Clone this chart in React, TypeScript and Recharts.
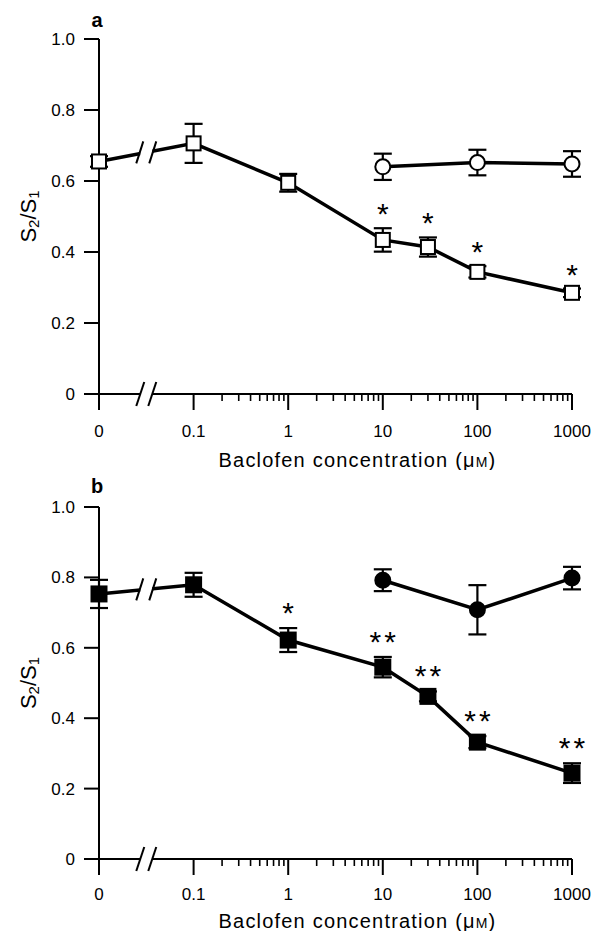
import React from "react";
import {
  ComposedChart,
  Line,
  XAxis,
  YAxis,
  ErrorBar,
  ReferenceDot,
  LabelList
} from "recharts";

const FONT = "'Liberation Sans', Arial, Helvetica, sans-serif";

// "0" is plotted at 0.01 on the log axis; the axis break sits half a decade further
const ZERO_AT = 0.01;
const BREAK_AT = 0.0316;

const xTicks = [0.01, 0.1, 1, 10, 100, 1000];
const xTickLabels = ["0", "0.1", "1", "10", "100", "1000"];
const minorTicks = [0.1, 1, 10, 100].flatMap(d => [2, 3, 4, 5, 6, 7, 8, 9].map(m => d * m));
const yTicks = [0, 0.2, 0.4, 0.6, 0.8, 1.0];

const concSquares = [0, 0.1, 1, 10, 30, 100, 1000];
const concCircles = [10, 100, 1000];

// panel a: open squares / open circles
const aSquare = [0.655, 0.706, 0.595, 0.434, 0.414, 0.344, 0.285];
const aSquareErr = [0.015, 0.055, 0.025, 0.033, 0.027, 0.016, 0.012];
const aSig = ["", "", "", "*", "*", "*", "*"];
const aCircle = [0.64, 0.652, 0.648];
const aCircleErr = [0.037, 0.036, 0.036];

// panel b: filled squares / filled circles
const bSquare = [0.753, 0.779, 0.622, 0.545, 0.462, 0.332, 0.244];
const bSquareErr = [0.04, 0.034, 0.034, 0.029, 0.014, 0.017, 0.028];
const bSig = ["", "", "*", "**", "**", "**", "**"];
const bCircle = [0.792, 0.708, 0.798];
const bCircleErr = [0.031, 0.07, 0.032];

const rows = (conc: number[], vals: number[], errs: number[], sig?: string[]) =>
  conc.map((c, i) => ({
    x: c === 0 ? ZERO_AT : c,
    y: vals[i],
    err: errs[i],
    sig: sig ? sig[i] : "",
    starY: vals[i] + errs[i]
  }));

const squareDot = (filled: boolean) => (p: any) => {
  const s = filled ? 15 : 14;
  return (
    <rect
      key={p.index}
      x={p.cx - s / 2}
      y={p.cy - s / 2}
      width={s}
      height={s}
      fill={filled ? "#000" : "#fff"}
      stroke="#000"
      strokeWidth={2}
    />
  );
};

const circleDot = (filled: boolean) => (p: any) => (
  <circle
    key={p.index}
    cx={p.cx}
    cy={p.cy}
    r={7.5}
    fill={filled ? "#000" : "#fff"}
    stroke="#000"
    strokeWidth={2}
  />
);

const makeXTick = (labelDy: number) => (p: any) => {
  const { x, y, payload } = p;
  const i = xTicks.indexOf(payload.value);
  const major = i >= 0;
  return (
    <g>
      <line x1={x} x2={x} y1={y} y2={y + (major ? 16 : 7)} stroke="#000" strokeWidth={major ? 2 : 1.6} />
      {major && (
        <text x={x} y={y + labelDy} textAnchor="middle" fontSize={17} fontFamily={FONT} fill="#000">
          {xTickLabels[i]}
        </text>
      )}
    </g>
  );
};

const XTitle = (p: any) => {
  const vb = p.viewBox;
  return (
    <text
      x={vb.x + vb.width / 2 + 22}
      y={vb.y + p.dyBase}
      textAnchor="middle"
      fontSize={20}
      letterSpacing={1.2}
      fontFamily={FONT}
      fill="#000"
    >
      Baclofen concentration (μ<tspan fontSize={14}>M</tspan>)
    </text>
  );
};

const YTitle = (p: any) => {
  const vb = p.viewBox;
  const cy = vb.y + vb.height / 2;
  const lx = 28;
  return (
    <g>
      <text
        x={vb.x + vb.width - 2}
        y={vb.y - p.letterUp}
        textAnchor="middle"
        fontSize={20}
        fontWeight="bold"
        fontFamily={FONT}
        fill="#000"
      >
        {p.letter}
      </text>
      <text
        transform={`translate(${lx},${cy}) rotate(-90)`}
        textAnchor="middle"
        dominantBaseline="central"
        fontSize={22}
        fontFamily={FONT}
        fill="#000"
      >
        S<tspan fontSize={15} dy={5}>2</tspan>
        <tspan dy={-5}>/S</tspan>
        <tspan fontSize={15} dy={5}>1</tspan>
      </text>
    </g>
  );
};

const starLabel = (up: number) => (p: any) => {
  if (!p.value || p.y == null) return null;
  const two = String(p.value).length > 1;
  return (
    <text
      x={p.x + (two ? 1.5 : 0)}
      y={p.y - up}
      textAnchor="middle"
      fontSize={30}
      letterSpacing={two ? 3 : 0}
      fontFamily={FONT}
      fill="#000"
    >
      {p.value}
    </text>
  );
};

const AxisBreak = (p: any) => {
  const { cx, cy } = p;
  return (
    <g>
      <rect x={cx - 6} y={cy - 3} width={12} height={6} fill="#fff" />
      <line x1={cx - 10} y1={cy + 12} x2={cx - 2} y2={cy - 12} stroke="#000" strokeWidth={2} />
      <line x1={cx + 2} y1={cy + 12} x2={cx + 10} y2={cy - 12} stroke="#000" strokeWidth={2} />
    </g>
  );
};

const LineBreak = (p: any) => {
  const { cx, cy } = p;
  return (
    <g>
      <rect x={cx - 6} y={cy - 5} width={12} height={10} fill="#fff" />
      <line x1={cx - 10} y1={cy + 11} x2={cx - 3} y2={cy - 11} stroke="#000" strokeWidth={2} />
      <line x1={cx + 3} y1={cy + 11} x2={cx + 10} y2={cy - 11} stroke="#000" strokeWidth={2} />
    </g>
  );
};

type PanelProps = {
  letter: string;
  squares: number[];
  squareErr: number[];
  sig: string[];
  circles: number[];
  circleErr: number[];
  filled: boolean;
  height: number;
  top: number;
  bottom: number;
  tickDy: number;
  titleDy: number;
  letterUp: number;
  starUp: number;
};

function Panel(pr: PanelProps) {
  const sq = rows(concSquares, pr.squares, pr.squareErr, pr.sig);
  const ci = rows(concCircles, pr.circles, pr.circleErr);
  const breakY = (pr.squares[0] + pr.squares[1]) / 2;
  const markerZ: any = { zIndex: 700 };
  return (
    <ComposedChart
      width={595}
      height={pr.height}
      margin={{ top: pr.top, right: 23, left: 39, bottom: pr.bottom }}
    >
      <XAxis
        type="number"
        dataKey="x"
        scale="log"
        domain={[0.01, 1000]}
        ticks={[...xTicks, ...minorTicks]}
        interval={0}
        tick={makeXTick(pr.tickDy)}
        tickLine={false}
        tickSize={0}
        tickMargin={0}
        height={50}
        axisLine={{ stroke: "#000", strokeWidth: 2 }}
        label={<XTitle dyBase={pr.titleDy} />}
      />
      <YAxis
        type="number"
        domain={[0, 1]}
        ticks={yTicks}
        width={60}
        tickSize={15}
        tickMargin={9}
        tickFormatter={(v: number) => (v === 0 ? "0" : v.toFixed(1))}
        tick={{ fill: "#000", fontSize: 17, fontFamily: FONT }}
        tickLine={{ stroke: "#000", strokeWidth: 2 }}
        axisLine={{ stroke: "#000", strokeWidth: 2 }}
        label={<YTitle letter={pr.letter} letterUp={pr.letterUp} />}
      />
      {/* lines + error bars first, markers drawn on top afterwards */}
      <Line data={ci} dataKey="y" stroke="#000" strokeWidth={3.5} dot={false} activeDot={false} isAnimationActive={false}>
        <ErrorBar dataKey="err" direction="y" width={9} stroke="#000" strokeWidth={2.2} />
      </Line>
      <Line data={sq} dataKey="y" stroke="#000" strokeWidth={3.5} dot={false} activeDot={false} isAnimationActive={false}>
        <ErrorBar dataKey="err" direction="y" width={9} stroke="#000" strokeWidth={2.2} />
      </Line>
      <Line
        data={ci}
        dataKey="y"
        stroke="none"
        dot={circleDot(pr.filled)}
        activeDot={false}
        isAnimationActive={false}
        {...markerZ}
      />
      <Line
        data={sq}
        dataKey="y"
        stroke="none"
        dot={squareDot(pr.filled)}
        activeDot={false}
        isAnimationActive={false}
        {...markerZ}
      />
      <Line
        data={sq}
        dataKey="starY"
        stroke="none"
        dot={false}
        activeDot={false}
        isAnimationActive={false}
      >
        <LabelList dataKey="sig" content={starLabel(pr.starUp)} />
      </Line>
      <ReferenceDot x={BREAK_AT} y={0} r={0} shape={AxisBreak} ifOverflow="visible" {...markerZ} />
      <ReferenceDot x={BREAK_AT} y={breakY} r={0} shape={LineBreak} ifOverflow="visible" {...markerZ} />
    </ComposedChart>
  );
}

export default function App() {
  return (
    <div style={{ position: "absolute", left: 0, top: 0, width: 595, height: 931, background: "#fff" }}>
      <Panel
        letter="a"
        squares={aSquare}
        squareErr={aSquareErr}
        sig={aSig}
        circles={aCircle}
        circleErr={aCircleErr}
        filled={false}
        height={470}
        top={39}
        bottom={26}
        tickDy={43}
        titleDy={73}
        letterUp={12}
        starUp={4}
      />
      <Panel
        letter="b"
        squares={bSquare}
        squareErr={bSquareErr}
        sig={bSig}
        circles={bCircle}
        circleErr={bCircleErr}
        filled={true}
        height={461}
        top={37}
        bottom={22}
        tickDy={41}
        titleDy={69}
        letterUp={14}
        starUp={5}
      />
    </div>
  );
}
